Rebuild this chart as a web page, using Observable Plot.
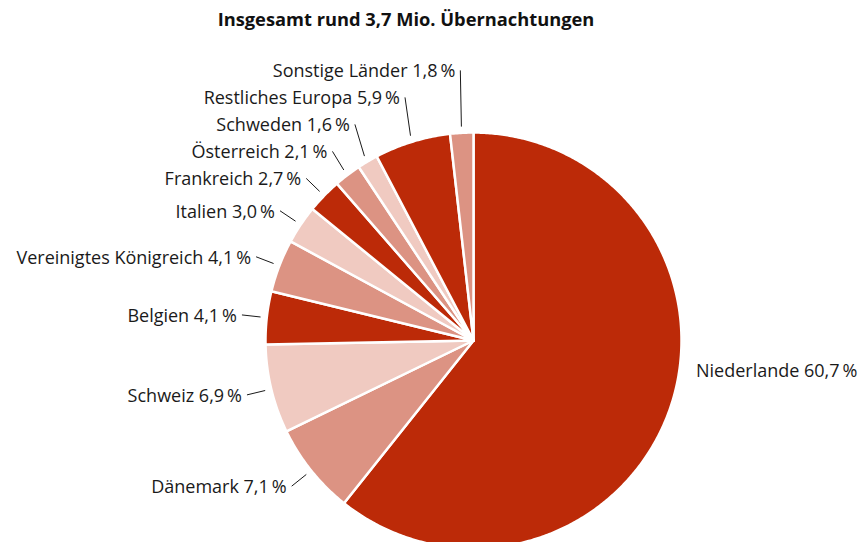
<!DOCTYPE html>
<html>
<head>
<meta charset="utf-8">
<script src="https://cdn.jsdelivr.net/npm/d3@7"></script>
<script src="https://cdn.jsdelivr.net/npm/@observablehq/plot@0.6"></script>
<style>
  html, body { margin: 0; padding: 0; background: #fff; }
  #title { box-sizing: border-box; width: 863px; height: 40px; padding: 7px 51px 0 0; text-align: center;
           font: bold 18.3px "Open Sans", sans-serif; line-height: 24px; color: #111; }
</style>
</head>
<body>
<div id="title">Insgesamt rund 3,7 Mio. Übernachtungen</div>
<div id="chart"></div>
<script>
// ---- data ----
const countries = ["Niederlande", "Dänemark", "Schweiz", "Belgien", "Vereinigtes Königreich",
  "Italien", "Frankreich", "Österreich", "Schweden", "Restliches Europa", "Sonstige Länder"];
const shares = [60.7, 7.1, 6.9, 4.1, 4.1, 3.0, 2.7, 2.1, 1.6, 5.9, 1.8];

// ---- style / layout ----
const palette = ["#bc2a08", "#dc9383", "#f0cac1"];
const W = 863, H = 502, cxPx = 473, cyPx = 300, Rpx = 208;
const gap = 27 / Rpx;

const data = countries.map((name, i) => ({name, share: shares[i], color: palette[i % 3]}));
const arcs = d3.pie().sort(null).value(d => d.share)(data);

// polygon points for each slice
const pts = [];
for (const a of arcs) {
  const key = a.data.name;
  pts.push({key, x: 0, y: 0, color: a.data.color});
  const n = Math.max(2, Math.ceil((a.endAngle - a.startAngle) / (Math.PI / 360)));
  for (let k = 0; k <= n; k++) {
    const t = a.startAngle + (a.endAngle - a.startAngle) * k / n;
    pts.push({key, x: Math.sin(t), y: Math.cos(t), color: a.data.color});
  }
  pts.push({key, x: 0, y: 0, color: a.data.color});
}

const fmt = v => v.toFixed(1).replace(".", ",") + "\u2009%";

// label layout
const labels = arcs.map(a => {
  const m = (a.startAngle + a.endAngle) / 2;
  return {
    text: a.data.name + " " + fmt(a.data.share),
    mid: m,
    left: Math.sin(m) < 0,
    ax: 1.03 * Math.sin(m), ay: 1.03 * Math.cos(m),
    lx: 1.12 * Math.sin(m), ly: 1.12 * Math.cos(m)
  };
});
const left = labels.filter(d => d.left).sort((a, b) => a.ly - b.ly);
for (let i = 1; i < left.length; i++) {
  if (left[i].ly < left[i - 1].ly + gap) left[i].ly = left[i - 1].ly + gap;
}
const right = labels.filter(d => !d.left);
for (const d of right) {
  d.ly = Math.max(-0.15, Math.min(0.15, 1.08 * Math.cos(d.mid)));
  d.lx = Math.sqrt(1.08 * 1.08 - d.ly * d.ly);
}

const chart = Plot.plot({
  width: W, height: H,
  margin: 0,
  x: {domain: [-cxPx / Rpx, (W - cxPx) / Rpx], axis: null},
  y: {domain: [-(H - cyPx) / Rpx, cyPx / Rpx], axis: null},
  color: {type: "identity"},
  style: {fontFamily: "Open Sans, sans-serif", background: "white", overflow: "visible"},
  marks: [
    Plot.line(pts, {x: "x", y: "y", z: "key", fill: "color", stroke: "white", strokeWidth: 2.5, strokeLinejoin: "round", curve: "linear"}),
    Plot.link(left, {x1: "ax", y1: "ay", x2: "lx", y2: "ly", stroke: "#1a1a1a", strokeWidth: 1}),
    Plot.text(left, {x: "lx", y: "ly", text: "text", textAnchor: "end", dx: -5, dy: 1, fontSize: 18, fill: "#1a1a1a"}),
    Plot.text(right, {x: "lx", y: "ly", text: "text", textAnchor: "start", fontSize: 18, fill: "#1a1a1a"})
  ]
});
document.getElementById("chart").appendChild(chart);
</script>
</body>
</html>
